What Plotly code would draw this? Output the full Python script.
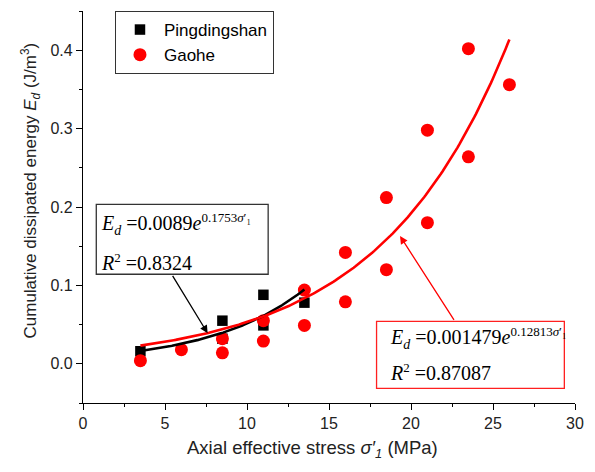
import numpy as np
import plotly.graph_objects as go

# Measured data: axial effective stress (MPa) vs cumulative dissipated energy (J/m^3)
pds_stress = [3.5, 8.5, 8.5, 11.0, 11.0, 13.5]
pds_energy = [0.016, 0.055, 0.032, 0.088, 0.049, 0.078]

gaohe_stress = [3.5, 6.0, 8.5, 8.5, 11.0, 11.0, 13.5, 13.5, 16.0, 16.0,
                18.5, 18.5, 21.0, 21.0, 23.5, 23.5, 26.0]
gaohe_energy = [0.004, 0.018, 0.014, 0.032, 0.029, 0.055, 0.049, 0.094, 0.079, 0.142,
                0.120, 0.212, 0.180, 0.298, 0.264, 0.402, 0.356]

# Exponential fits  E = a * exp(b * sigma)
pds_fit_a, pds_fit_b, pds_fit_range = 0.0089, 0.1753, (3.5, 13.5)
gaohe_fit_a, gaohe_fit_b, gaohe_fit_range = 0.01479, 0.12813, (3.5, 26.0)

x_ticks = [0, 5, 10, 15, 20, 25, 30]
y_ticks = [0.0, 0.1, 0.2, 0.3, 0.4]

SANS = "Liberation Sans, Arial, sans-serif"
SERIF = "Liberation Serif, Times New Roman, serif"

xp = np.linspace(*pds_fit_range, 120)
xg = np.linspace(*gaohe_fit_range, 200)

fig = go.Figure()
fig.add_trace(go.Scatter(x=pds_stress, y=pds_energy, mode="markers", name="Pingdingshan",
                         marker=dict(symbol="square", size=10.5, color="black")))
fig.add_trace(go.Scatter(x=gaohe_stress, y=gaohe_energy, mode="markers", name="Gaohe",
                         marker=dict(symbol="circle", size=13, color="#ff0000")))
fig.add_trace(go.Scatter(x=xp, y=pds_fit_a * np.exp(pds_fit_b * xp), mode="lines",
                         line=dict(color="black", width=2.6), showlegend=False))
fig.add_trace(go.Scatter(x=xg, y=gaohe_fit_a * np.exp(gaohe_fit_b * xg), mode="lines",
                         line=dict(color="#ff0000", width=2.6), showlegend=False))

# Equation boxes
fig.add_shape(type="rect", xref="x", yref="y", x0=0.81, x1=11.29, y0=0.1142, y1=0.2034,
              line=dict(color="#333333", width=1.3), fillcolor="white", layer="above")
fig.add_shape(type="rect", xref="x", yref="y", x0=17.9, x1=29.35, y0=-0.0313, y1=0.0542,
              line=dict(color="#ff2020", width=1.3), fillcolor="white", layer="above")

eq_font = dict(family=SERIF, size=20, color="black")


def small(s):
    return f'<span style="font-size:13px">{s}</span>'


fig.add_annotation(x=1.0, y=0.1785, xref="x", yref="y", xanchor="left", yanchor="middle",
                   showarrow=False, font=eq_font,
                   text="<i>E</i><sub><i>d</i></sub> =0.0089<i>e</i><sup>"
                        + small("0.1753<i>σ</i>′₁") + "</sup>")
fig.add_annotation(x=1.0, y=0.1295, xref="x", yref="y", xanchor="left", yanchor="middle",
                   showarrow=False, font=eq_font,
                   text="<i>R</i><sup>" + small("2") + "</sup> =0.8324")
fig.add_annotation(x=18.6, y=0.0325, xref="x", yref="y", xanchor="left", yanchor="middle",
                   showarrow=False, font=eq_font,
                   text="<i>E</i><sub><i>d</i></sub> =0.001479<i>e</i><sup>"
                        + small("0.12813<i>σ</i>′₁") + "</sup>")
fig.add_annotation(x=18.6, y=-0.0105, xref="x", yref="y", xanchor="left", yanchor="middle",
                   showarrow=False, font=eq_font,
                   text="<i>R</i><sup>" + small("2") + "</sup> =0.87087")

# Arrows from the boxes to the fitted curves
fig.add_annotation(x=7.6, y=0.039, ax=5.41, ay=0.114, xref="x", yref="y", axref="x", ayref="y",
                   text="", showarrow=True, arrowhead=2, arrowsize=1.2, arrowwidth=1.3,
                   arrowcolor="black")
fig.add_annotation(x=19.33, y=0.163, ax=22.68, ay=0.0542, xref="x", yref="y", axref="x", ayref="y",
                   text="", showarrow=True, arrowhead=2, arrowsize=1.2, arrowwidth=1.3,
                   arrowcolor="#ff0000")

# Axis titles
fig.add_annotation(x=0.467, y=-0.118, xref="paper", yref="paper", xanchor="center", yanchor="middle",
                   showarrow=False, font=dict(family=SANS, size=18.5, color="#222222"),
                   text="Axial effective stress <i>σ′<sub>1</sub></i> (MPa)")
fig.add_annotation(x=-0.107, y=0.543, xref="paper", yref="paper", xanchor="center", yanchor="middle",
                   showarrow=False, textangle=-90, font=dict(family=SANS, size=17, color="#222222"),
                   text="Cumulative dissipated energy <i>E<sub>d</sub></i> (J/m<sup>3</sup>)")

axis_common = dict(showline=True, linecolor="black", linewidth=1.3, showgrid=False,
                   zeroline=False, ticks="outside", ticklen=6, tickwidth=1.3, tickcolor="black",
                   tickfont=dict(family=SANS, size=16, color="#222222"), mirror=False)

fig.update_xaxes(range=[0, 30], tickvals=x_ticks, ticktext=[str(v) for v in x_ticks],
                 minor=dict(ticks="outside", ticklen=3, tickwidth=1.3, tickcolor="black", dtick=2.5, tick0=0),
                 **axis_common)
fig.update_yaxes(range=[-0.05, 0.45], tickvals=y_ticks, ticktext=[f"{v:.1f}" for v in y_ticks],
                 minor=dict(ticks="outside", ticklen=3, tickwidth=1.3, tickcolor="black", dtick=0.05, tick0=0),
                 **axis_common)

fig.update_layout(
    width=595, height=472,
    margin=dict(l=83, r=17, t=11, b=69),
    plot_bgcolor="white", paper_bgcolor="white",
    legend=dict(x=0.065, y=1.0, xanchor="left", yanchor="top",
                bordercolor="#333333", borderwidth=1, bgcolor="white",
                font=dict(family=SANS, size=17, color="black"), tracegroupgap=0,
                itemwidth=38),
)

fig.write_html("out.html")
